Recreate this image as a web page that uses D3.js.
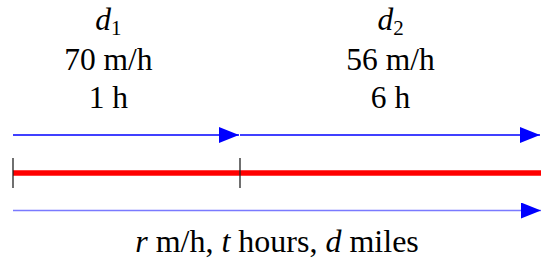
<!DOCTYPE html>
<html>
<head>
<meta charset="utf-8">
<script src="https://cdn.jsdelivr.net/npm/d3@7"></script>
<style>
  body { margin: 0; background: #fff; }
</style>
</head>
<body>
<script>
// Data
var segments = ["d1", "d2"];
var subs = ["1", "2"];
var rates = [70, 56];
var hours = [1, 6];
var labelPos = [0.42, 1.5];
var breaks = [0, 1, 2];

var W = 541, H = 264;
var serif = "'Liberation Serif', 'Times New Roman', serif";

var svg = d3.select("body").append("svg")
  .attr("width", W)
  .attr("height", H);

var x = d3.scaleLinear().domain([0, 1, 2]).range([13, 240, 541]);

// arrowhead
svg.append("defs").append("marker")
  .attr("id", "head")
  .attr("markerUnits", "userSpaceOnUse")
  .attr("viewBox", "0 0 20 16")
  .attr("refX", 20)
  .attr("refY", 8)
  .attr("markerWidth", 20)
  .attr("markerHeight", 16)
  .attr("orient", "auto")
  .append("path")
    .attr("d", "M0,0L20,8L0,16Z")
    .attr("fill", "#0000ff");

// labels above each segment
var lab = svg.selectAll(".lab")
  .data(segments)
  .enter().append("g")
    .attr("class", "lab")
    .attr("transform", function(d, i) { return "translate(" + x(labelPos[i]) + ",0)"; });

var t1 = lab.append("text")
  .attr("y", 30)
  .attr("text-anchor", "middle")
  .style("font-family", serif)
  .style("font-size", "31.5px");
t1.append("tspan").style("font-style", "italic").text("d");
t1.append("tspan").style("font-size", "21px").attr("dy", 5).text(function(d, i) { return subs[i]; });

lab.append("text")
  .attr("y", 70)
  .attr("text-anchor", "middle")
  .style("font-family", serif)
  .style("font-size", "31.5px")
  .text(function(d, i) { return rates[i] + " m/h"; });

lab.append("text")
  .attr("y", 108)
  .attr("text-anchor", "middle")
  .style("font-family", serif)
  .style("font-size", "31.5px")
  .text(function(d, i) { return hours[i] + " h"; });

// segment arrows
svg.selectAll(".seg")
  .data(segments)
  .enter().append("line")
    .attr("class", "seg")
    .attr("x1", function(d, i) { return x(breaks[i]); })
    .attr("x2", function(d, i) { return x(breaks[i + 1]) - 1; })
    .attr("y1", 135)
    .attr("y2", 135)
    .attr("stroke", "#0000ff")
    .attr("stroke-width", 1.5)
    .attr("marker-end", "url(#head)");

// red road
svg.append("line")
  .attr("x1", x(0))
  .attr("x2", x(2))
  .attr("y1", 173)
  .attr("y2", 173)
  .attr("stroke", "#ff0000")
  .attr("stroke-width", 5.5);

svg.selectAll(".tick")
  .data(breaks.slice(0, 2))
  .enter().append("line")
    .attr("class", "tick")
    .attr("x1", function(d) { return x(d); })
    .attr("x2", function(d) { return x(d); })
    .attr("y1", 158)
    .attr("y2", 188)
    .attr("stroke", "#222")
    .attr("stroke-width", 1.3);

// total arrow
svg.append("line")
  .attr("x1", x(0))
  .attr("x2", x(2))
  .attr("y1", 210.5)
  .attr("y2", 210.5)
  .attr("stroke", "#7a7aff")
  .attr("stroke-width", 1.5)
  .attr("marker-end", "url(#head)");

var tt = svg.append("text")
  .attr("x", 277)
  .attr("y", 252)
  .attr("text-anchor", "middle")
  .style("font-family", serif)
  .style("font-size", "32px");
tt.append("tspan").style("font-style", "italic").text("r");
tt.append("tspan").text(" m/h, ");
tt.append("tspan").style("font-style", "italic").text("t");
tt.append("tspan").text(" hours, ");
tt.append("tspan").style("font-style", "italic").text("d");
tt.append("tspan").text(" miles");
</script>
</body>
</html>
